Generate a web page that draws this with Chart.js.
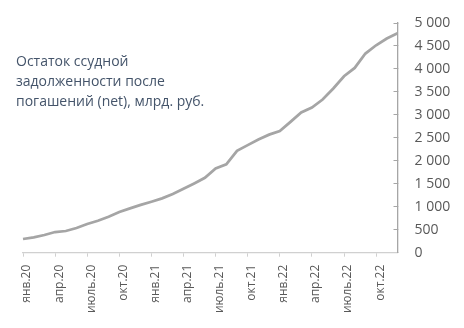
<!DOCTYPE html>
<html>
  <head>
    <meta charset="utf-8">
    <title>Остаток ссудной задолженности</title>
    <script src="https://cdn.jsdelivr.net/npm/chart.js@4.4.0/dist/chart.umd.min.js"></script>
    <style>
      html,body{
        width: 100%;
        height: 100%;
        margin: 0;
        padding: 0;
        background: #fff;
      }
      #container{
        position: relative;
        width: 464px;
        height: 328px;
      }
      #titulo{
        position: absolute;
        left: 16px;
        top: 51px;
        font-family: "Open Sans", sans-serif;
        font-size: 14px;
        line-height: 19.8px;
        color: #44546a;
      }
    </style>
  </head>
  <body>
    <div id="container">
      <canvas id="myChart" width="464" height="328"></canvas>
      <div id="titulo">Остаток ссудной<br>задолженности после<br>погашений (net), млрд. руб.</div>
    </div>

    <script>
      // месяцы янв.20 - дек.22
      const meses = ['янв', 'фев', 'мар', 'апр', 'май', 'июнь', 'июль', 'авг', 'сен', 'окт', 'ноя', 'дек']
      const anos = ['20', '21', '22']
      const categorias = []
      anos.forEach(a => meses.forEach(m => categorias.push(m + '.' + a)))

      // остаток, млрд руб.
      const valores = [298, 335, 385, 450, 472, 537, 624, 696, 783, 885, 965, 1040,
                       1110, 1182, 1276, 1391, 1508, 1630, 1835, 1922, 2217, 2341, 2465, 2570,
                       2646, 2848, 3052, 3161, 3335, 3574, 3841, 4022, 4335, 4515, 4661, 4775]

      const yMin = 0
      const yMax = 5000
      const yPasso = 500

      function formatar(v){
        return String(v).replace(/\B(?=(\d{3})+(?!\d))/g, ' ')
      }

      const ctx = document.getElementById('myChart').getContext('2d')
      const myChart = new Chart(ctx, {
        type: 'line',
        data: {
          labels: categorias,
          datasets: [{
            data: valores,
            borderColor: '#a5a5a5',
            borderWidth: 2.75,
            pointRadius: 0,
            tension: 0,
            fill: false,
          }]
        },
        options: {
          responsive: false,
          animation: false,
          layout: {
            padding: {left: 23, top: 23, right: 0, bottom: 0}
          },
          plugins: {
            legend: {display: false},
            tooltip: {enabled: false},
          },
          scales: {
            x: {
              offset: false,
              afterFit: s => { s.height = 75.3; s.paddingLeft = 0; s.paddingRight = 0 },
              border: {color: '#d0d0d0', width: 1.3},
              grid: {
                drawOnChartArea: false,
                drawTicks: true,
                tickLength: 4,
                color: c => c.index % 3 === 0 ? '#d0d0d0' : 'rgba(0,0,0,0)',
              },
              ticks: {
                autoSkip: false,
                minRotation: 90,
                maxRotation: 90,
                padding: 8,
                labelOffset: 4,
                color: '#595959',
                font: {family: '"Open Sans", sans-serif', size: 12},
                callback: function(val, i){ return i % 3 === 0 ? this.getLabelForValue(val) : '' },
              },
            },
            y: {
              position: 'right',
              min: yMin,
              max: yMax,
              afterFit: s => { s.width = 66.5; s.paddingTop = 0; s.paddingBottom = 0 },
              border: {color: '#a6a6a6', width: 1.3},
              grid: {
                drawOnChartArea: false,
                drawTicks: true,
                tickLength: -4,
                color: '#a6a6a6',
              },
              ticks: {
                stepSize: yPasso,
                padding: 21,
                color: '#595959',
                font: {family: '"Open Sans", sans-serif', size: 14},
                callback: v => formatar(v),
              },
            },
          },
        }
      })
    </script>
  </body>
</html>
